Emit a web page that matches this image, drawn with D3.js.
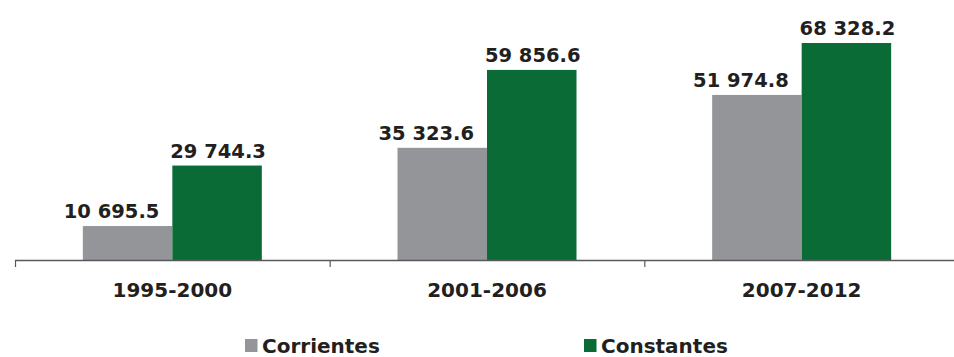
<!DOCTYPE html>
<html>
<head>
<meta charset="utf-8">
<script src="https://cdnjs.cloudflare.com/ajax/libs/d3/7.8.5/d3.min.js"></script>
<style>
  body { margin: 0; background: #fff; }
  text { font-family: "DejaVu Sans", sans-serif; font-weight: bold; fill: #231f20; }
</style>
</head>
<body>
<script>
var periods = ['1995-2000', '2001-2006', '2007-2012'];
var series = ['Corrientes', 'Constantes'];
var corrientes = [10695.5, 35323.6, 51974.8];
var constantes = [29744.3, 59856.6, 68328.2];
var colors = ['#939598', '#0b6b37'];

var width = 954,
    height = 357,
    baseline = 260;

var data = periods.map(function(p, i) {
  return { period: p, values: [corrientes[i], constantes[i]] };
});

var svg = d3.select('body')
  .append('svg')
  .attr('width', width)
  .attr('height', height);

var x0 = d3.scaleBand()
  .domain(periods)
  .range([15, 959])
  .paddingInner(0)
  .paddingOuter(0);

var x1 = d3.scaleBand()
  .domain(series)
  .range([0, 179]);

var y = d3.scaleLinear()
  .domain([0, 70000])
  .range([baseline, baseline - 222.3]);

var fmt = function(v) { return d3.format(',.1f')(v).replace(/,/g, ' '); };

var groups = svg.selectAll('g.group')
  .data(data)
  .enter().append('g')
  .attr('class', 'group')
  .attr('transform', function(d) {
    return 'translate(' + (x0(d.period) + (x0.bandwidth() - 179) / 2) + ',0)';
  });

groups.selectAll('rect')
  .data(function(d) { return d.values.map(function(v, i) { return { key: series[i], value: v, i: i }; }); })
  .enter().append('rect')
  .attr('x', function(d) { return x1(d.key); })
  .attr('y', function(d) { return y(d.value); })
  .attr('width', x1.bandwidth())
  .attr('height', function(d) { return baseline - y(d.value); })
  .attr('fill', function(d) { return colors[d.i]; });

// grey labels sit a little left of their bar, as in the original
groups.selectAll('text.value')
  .data(function(d) { return d.values.map(function(v, i) { return { key: series[i], value: v, i: i }; }); })
  .enter().append('text')
  .attr('class', 'value')
  .attr('x', function(d) { return x1(d.key) + x1.bandwidth() / 2 + (d.i === 0 ? -16 : 1); })
  .attr('y', function(d) { return y(d.value) - 8; })
  .attr('text-anchor', 'middle')
  .attr('font-size', 19.5)
  .text(function(d) { return fmt(d.value); });

// axis line + boundary ticks
svg.append('line')
  .attr('x1', 15).attr('x2', width)
  .attr('y1', baseline + 0.5).attr('y2', baseline + 0.5)
  .attr('stroke', '#58595b').attr('stroke-width', 1.5);

svg.selectAll('line.tick')
  .data(periods)
  .enter().append('line')
  .attr('class', 'tick')
  .attr('x1', function(d) { return x0(d) + 0.5; })
  .attr('x2', function(d) { return x0(d) + 0.5; })
  .attr('y1', baseline)
  .attr('y2', baseline + 7)
  .attr('stroke', '#58595b').attr('stroke-width', 1.2);

svg.selectAll('text.cat')
  .data(periods)
  .enter().append('text')
  .attr('class', 'cat')
  .attr('x', function(d) { return x0(d) + x0.bandwidth() / 2; })
  .attr('y', 297)
  .attr('text-anchor', 'middle')
  .attr('font-size', 20)
  .text(function(d) { return d; });

// legend
var legendX = [245, 584];
var legend = svg.selectAll('g.legend')
  .data(series)
  .enter().append('g')
  .attr('class', 'legend')
  .attr('transform', function(d, i) { return 'translate(' + legendX[i] + ',339)'; });

legend.append('rect')
  .attr('width', 12.5).attr('height', 13)
  .attr('fill', function(d, i) { return colors[i]; });

legend.append('text')
  .attr('x', 17)
  .attr('y', 13.5)
  .attr('font-size', 20)
  .text(function(d) { return d; });
</script>
</body>
</html>
